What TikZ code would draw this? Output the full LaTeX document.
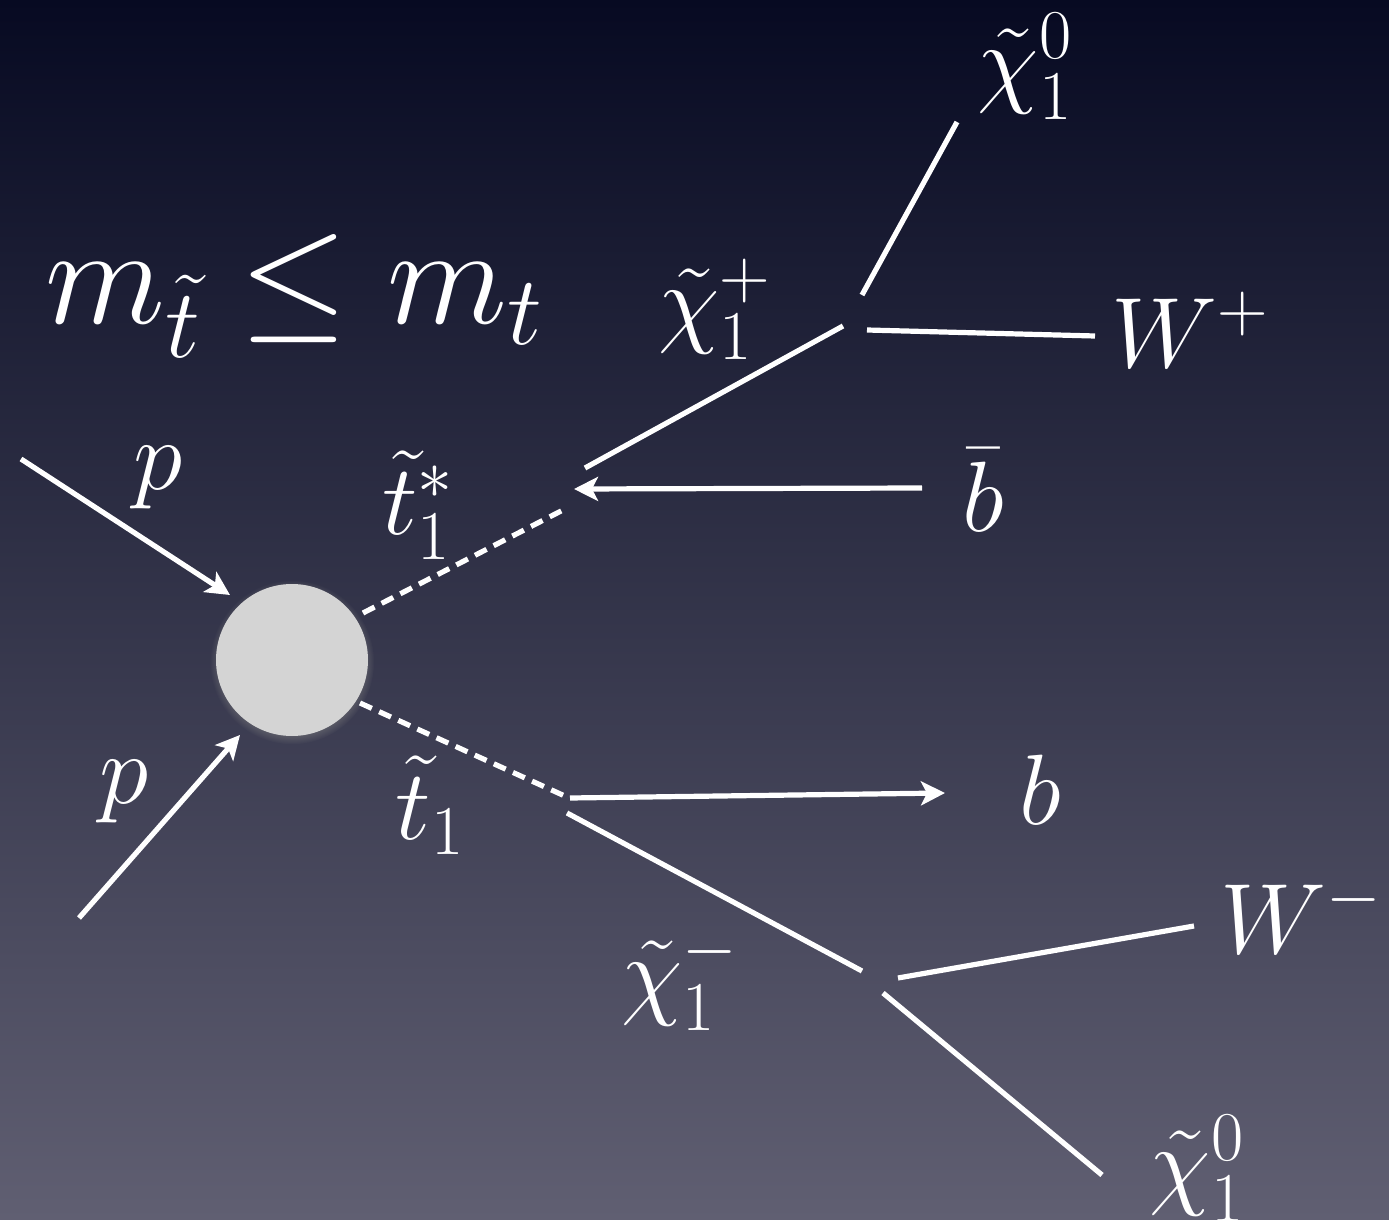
\documentclass[tikz,border=0pt]{standalone}
\usepackage{fix-cm}
\usetikzlibrary{arrows.meta,positioning,calc,shadows}
\definecolor{bgTop}{HTML}{070A22}
\definecolor{bgMid}{HTML}{3C3D56}
\definecolor{bgBot}{HTML}{605F72}
\definecolor{blobC}{HTML}{D4D4D4}
\tikzset{>={Stealth[length=12pt,width=12pt,inset=3pt]},
  fline/.style={white,line width=2.6pt},
  farr/.style={fline,->},
  sline/.style={fline,dash pattern=on 6.5pt off 4pt},
  plab/.style={text=white,font=\fontsize{50}{60}\selectfont,inner sep=0pt},
  ttl/.style={text=white,font=\fontsize{70}{84}\selectfont,inner sep=0pt},
  blobn/.style={circle,fill=blobC,minimum size=76pt,inner sep=0pt,
    circular drop shadow={shadow xshift=0pt,shadow yshift=-1pt,shadow scale=1.08,opacity=0.6}}}
\begin{document}
\begin{tikzpicture}[x=0.5pt,y=-0.5pt]
\shade[top color=bgTop,middle color=bgMid,bottom color=bgBot] (0,0) rectangle (1389,1220);
\useasboundingbox (0,0) rectangle (1389,1220);
\node[ttl,anchor=base west] (mass) at (45,323) {$m_{\tilde t}\leq m_t$};
\node[blobn] (blob) at (292,660) {};
% incoming protons
\coordinate (pA) at (21,459);\coordinate (pAend) at (230,595);
\coordinate (pB) at (79,918);\coordinate (pBend) at (240,735);
\draw[farr] (pA) -- (pAend);
\draw[farr] (pB) -- (pBend);
\node[plab] (labpA) at (158,478) {$p$};
\node[plab] (labpB) at (124,792) {$p$};
% stop pair
\coordinate (sA) at (363,613);\coordinate (sAend) at (563,510);
\coordinate (sB) at (360,703);\coordinate (sBend) at (567,797);
\draw[sline] (sA) -- (sAend);
\draw[sline] (sB) -- (sBend);
\node[plab] (labsA) at (418,505) {$\tilde t_1^*$};
\node[plab] (labsB) at (430,805) {$\tilde t_1$};
% upper decay
\coordinate (cpA) at (585,468);\coordinate (cpB) at (843,326);
\coordinate (bbA) at (922,488);\coordinate (bbB) at (574,489);
\draw[fline] (cpA) -- (cpB);
\draw[farr] (bbA) -- (bbB);
\node[plab] (labcp) at (715,309) {$\tilde\chi_1^+$};
\node[plab] (labbb) at (983,490) {$\bar b$};
\coordinate (nA) at (862,295);\coordinate (nAend) at (957,122);
\coordinate (wA) at (867,330);\coordinate (wAend) at (1095,336);
\draw[fline] (nA) -- (nAend);
\draw[fline] (wA) -- (wAend);
\node[plab] (labnA) at (1025,66) {$\tilde\chi_1^0$};
\node[plab] (labwA) at (1190,330) {$W^+$};
% lower decay
\coordinate (bA) at (570,798);\coordinate (bB) at (945,793);
\coordinate (cmA) at (567,813);\coordinate (cmB) at (862,971);
\draw[farr] (bA) -- (bB);
\draw[fline] (cmA) -- (cmB);
\node[plab] (labb) at (1040,790) {$b$};
\node[plab] (labcm) at (680,980) {$\tilde\chi_1^-$};
\coordinate (wB) at (898,978);\coordinate (wBend) at (1194,926);
\coordinate (nB) at (883,993);\coordinate (nBend) at (1102,1175);
\draw[fline] (wB) -- (wBend);
\draw[fline] (nB) -- (nBend);
\node[plab] (labwB) at (1301,915) {$W^-$};
\node[plab] (labnB) at (1197,1168) {$\tilde\chi_1^0$};
\end{tikzpicture}
\end{document}
